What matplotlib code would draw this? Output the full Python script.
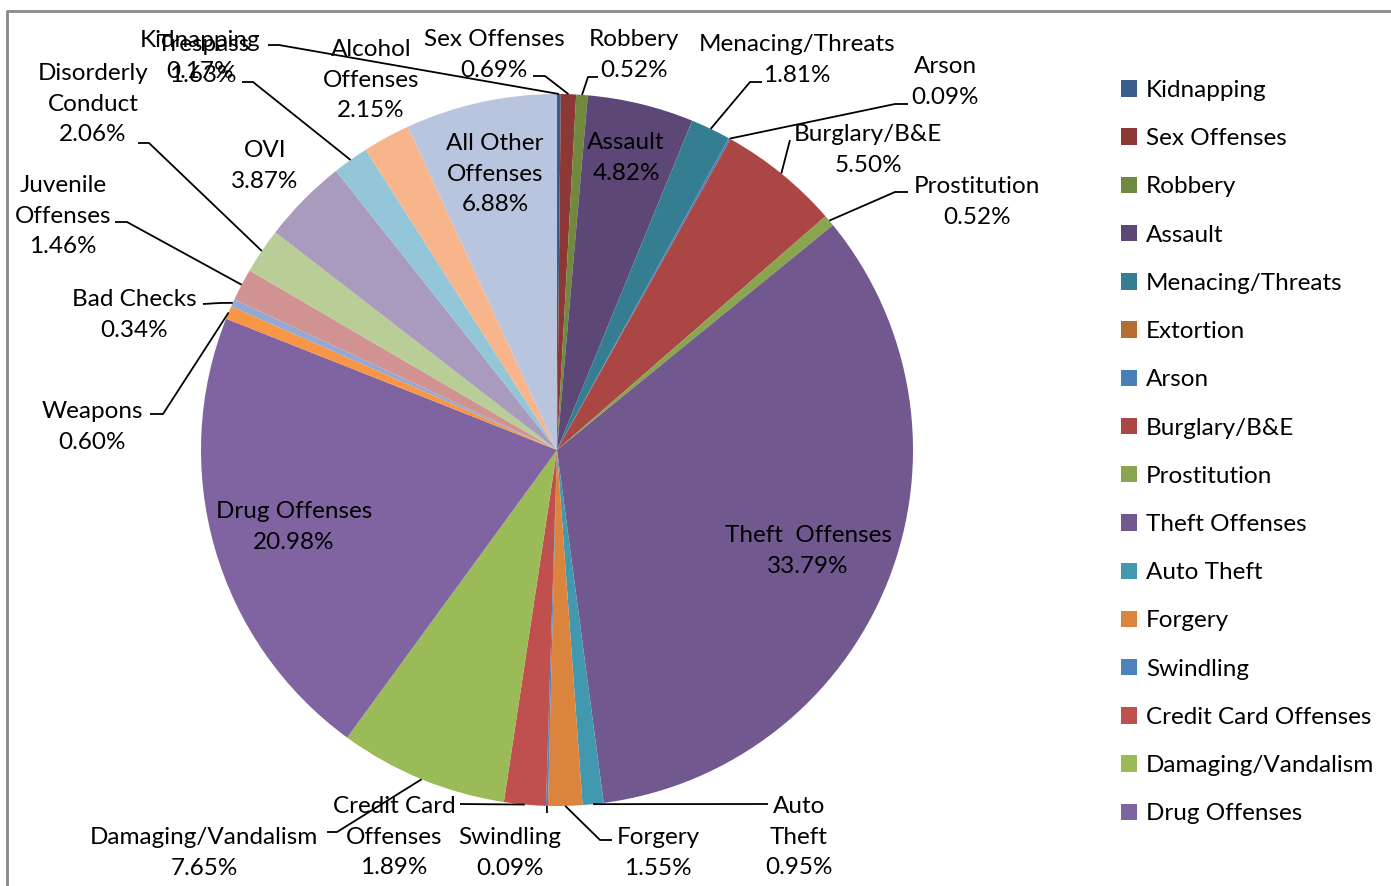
import numpy as np
import matplotlib
matplotlib.use("Agg")
import matplotlib.pyplot as plt

plt.rcParams['font.family'] = ['Lato', 'DejaVu Sans']

# категории и доли (%) по часовой стрелке от 12 часов
categories = ["Kidnapping", "Sex Offenses", "Robbery", "Assault", "Menacing/Threats",
              "Extortion", "Arson", "Burglary/B&E", "Prostitution", "Theft Offenses",
              "Auto Theft", "Forgery", "Swindling", "Credit Card Offenses",
              "Damaging/Vandalism", "Drug Offenses", "Weapons", "Bad Checks",
              "Juvenile Offenses", "Disorderly Conduct", "OVI", "Trespass",
              "Alcohol Offenses", "All Other Offenses"]
shares = [0.17, 0.69, 0.52, 4.82, 1.81,
          0.00, 0.09, 5.50, 0.52, 33.79,
          0.95, 1.55, 0.09, 1.89,
          7.65, 20.98, 0.60, 0.34,
          1.46, 2.06, 3.87, 1.63,
          2.15, 6.88]
# подписи на диаграмме (с переносами как в оригинале)
label_names = ["Kidnapping", "Sex Offenses", "Robbery", "Assault", "Menacing/Threats",
               None, "Arson", "Burglary/B&E", "Prostitution", "Theft  Offenses",
               "Auto\nTheft", "Forgery", "Swindling", "Credit Card\nOffenses",
               "Damaging/Vandalism", "Drug Offenses", "Weapons", "Bad Checks",
               "Juvenile\nOffenses", "Disorderly\nConduct", "OVI", "Trespass",
               "Alcohol\nOffenses", "All Other\nOffenses"]

colors = ["#385D8A", "#8C3836", "#71893F", "#5C4776", "#357D91",
          "#B66D31", "#4A7EBB", "#AA4643", "#89A54E", "#71588F",
          "#4198AF", "#DB843D", "#4F81BD", "#C0504D",
          "#9BBB59", "#8064A2", "#F79646", "#95A8D2",
          "#D19392", "#B9CD96", "#A99BBD", "#93C6D8",
          "#F8B48B", "#B9C4DF"]

W, H = 1391, 886
cx, cy, R = 557, 450, 356


def py(y):
    # пиксельная координата сверху -> координата осей снизу
    return H - y


# положение подписи (центр текста, пиксели) и точки выноски
label_pos = {
    "Kidnapping": ((200, 56), [(268, 45), (279, 45)]),
    "Sex Offenses": ((494, 55), [(533, 76), (545, 76)]),
    "Robbery": ((634, 55), [(598, 77), (588, 77)]),
    "Assault": ((626, 158), None),
    "Menacing/Threats": ((797, 60), [(762, 82), (750, 82)]),
    "Arson": ((945, 82), [(908, 104), (895, 104)]),
    "Burglary/B&E": ((868, 150), [(790, 140)]),
    "Prostitution": ((977, 202), [(908, 192), (895, 192)]),
    "Theft Offenses": ((808, 551), None),
    "Auto Theft": ((799, 837), [(768, 804)]),
    "Forgery": ((658, 853), [(612, 840), (600, 840)]),
    "Swindling": ((510, 853), [(547, 813)]),
    "Credit Card Offenses": ((394, 837), [(460, 804)]),
    "Damaging/Vandalism": ((204, 853), [(327, 832), (337, 832)]),
    "Drug Offenses": ((294, 527), None),
    "Weapons": ((92, 427), [(150, 414), (163, 414)]),
    "Bad Checks": ((134, 315), [(203, 304), (220, 303)]),
    "Juvenile Offenses": ((63, 216), [(115, 222), (127, 222)]),
    "Disorderly Conduct": ((93, 104), [(138, 143), (149, 143)]),
    "OVI": ((265, 166), None),
    "Trespass": ((203, 60), [(242, 82), (253, 82)]),
    "Alcohol Offenses": ((371, 80), None),
    "All Other Offenses": ((495, 174), None),
}

fig = plt.figure(figsize=(W / 100, H / 100), dpi=100)
ax = fig.add_axes([0, 0, 1, 1])

wedges, _ = ax.pie(shares, colors=colors, startangle=90, counterclock=False,
                   center=(cx, py(cy)), radius=R,
                   wedgeprops=dict(linewidth=0))

fs = 17.5
for w, cat, lab, val in zip(wedges, categories, label_names, shares):
    if cat not in label_pos:
        continue
    (tx, ty), leader = label_pos[cat]
    ax.text(tx, py(ty), f"{lab}\n{val:.2f}%", ha="center", va="center",
            fontsize=fs, linespacing=1.55, color="black", zorder=5)
    if leader:
        mid = np.deg2rad((w.theta1 + w.theta2) / 2)
        ex = cx + R * np.cos(mid)
        ey = py(cy) + R * np.sin(mid)
        xs = [p[0] for p in leader] + [ex]
        ys = [py(p[1]) for p in leader] + [ey]
        ax.plot(xs, ys, color="black", lw=1.3, zorder=4, solid_capstyle="butt")

# рамка области диаграммы
ax.plot([7, 7, W], [0, py(11), py(11)], color="#898989", lw=2, zorder=6)

ax.set_xlim(0, W)
ax.set_ylim(0, H)
ax.set_aspect("equal")
ax.axis("off")

leg = ax.legend(wedges[:16], categories[:16], loc="upper left",
                bbox_to_anchor=(1121 / W, 1 - 80 / H), bbox_transform=fig.transFigure,
                frameon=False, fontsize=fs, handlelength=0.66, handleheight=0.66,
                handletextpad=0.36, labelspacing=1.12, borderpad=0, borderaxespad=0)

fig.savefig("out.png", dpi=100)
